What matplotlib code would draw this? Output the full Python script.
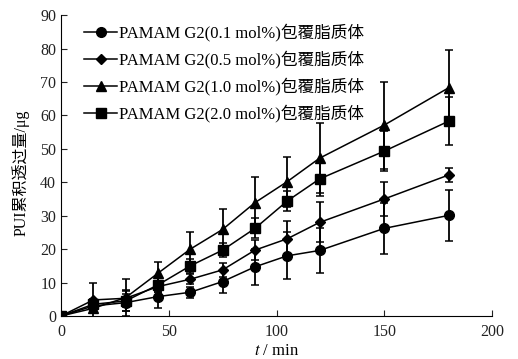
import matplotlib
matplotlib.use("Agg")
import matplotlib.pyplot as plt
from matplotlib.lines import Line2D

plt.rcParams['font.family'] = ['Liberation Serif', 'Noto Sans CJK SC']
plt.rcParams['mathtext.fontset'] = 'stix'

t = [0, 15, 30, 45, 60, 75, 90, 105, 120, 150, 180]
labels = ["PAMAM G2(0.1 mol%)包覆脂质体", "PAMAM G2(0.5 mol%)包覆脂质体",
          "PAMAM G2(1.0 mol%)包覆脂质体", "PAMAM G2(2.0 mol%)包覆脂质体"]
g01 = [0, 3.0, 4.0, 5.8, 7.1, 10.3, 14.7, 18.0, 19.6, 26.2, 30.1]
g05 = [0, 4.8, 5.3, 8.8, 11.0, 13.8, 19.7, 23.1, 28.0, 35.0, 42.2]
g10 = [0, 2.3, 5.5, 12.8, 20.0, 25.9, 33.9, 40.2, 47.2, 57.1, 68.3]
g20 = [0, 3.5, 4.5, 9.3, 15.0, 19.7, 26.2, 34.4, 41.0, 49.3, 58.3]
e01 = [0, 1.5, 2.5, 3.3, 1.6, 3.5, 5.4, 7.0, 6.6, 7.7, 7.7]
e05 = [0, 5.0, 2.5, 1.5, 1.5, 2.0, 3.0, 5.4, 6.0, 5.0, 2.0]
e10 = [0, 1.5, 5.5, 3.4, 5.2, 6.2, 7.8, 7.5, 10.4, 13.0, 11.2]
e20 = [0, 1.5, 3.0, 2.0, 2.0, 2.0, 3.0, 3.0, 5.0, 6.0, 7.3]
markers = ['o', 'D', '^', 's']
msizes = [7, 5.5, 7, 6.5]

fig = plt.figure(figsize=(5.18, 3.59), dpi=100)
ax = fig.add_axes([0.1178, 0.1198, 0.832, 0.8382])

handles = []
for y, e, m, ms, lab in zip([g01, g05, g10, g20], [e01, e05, e10, e20], markers, msizes, labels):
    ax.errorbar(t, y, yerr=e, color='black', marker=m, markersize=ms, lw=1.1,
                elinewidth=1.3, capsize=3.2, capthick=1.1)
    handles.append(Line2D([], [], color='black', marker=m, markersize=ms, lw=1.1, label=lab))

ax.set_xlim(0, 200)
ax.set_ylim(0, 90)
ax.set_xticks([0, 50, 100, 150, 200])
ax.set_yticks(range(0, 91, 10))
for s in ['top', 'right']:
    ax.spines[s].set_visible(False)
for s in ['left', 'bottom']:
    ax.spines[s].set_linewidth(0.8)
ax.tick_params(direction='in', length=4, width=0.8, labelsize=11.5, colors='#222222')
ax.tick_params(axis='x', pad=6)
ax.set_xlabel(r'$t$ / min', fontsize=12, labelpad=2)
ax.set_ylabel('PUI累积透过量/μg', fontsize=11.5)
ax.yaxis.set_label_coords(-0.072, 0.475)

ax.legend(handles=handles, loc='upper left', bbox_to_anchor=(0.03, 1.005), frameon=False,
          fontsize=12, handlelength=2.0, handletextpad=0.1, labelspacing=0.55, borderaxespad=0.2)

fig.savefig('out.png', dpi=100)
